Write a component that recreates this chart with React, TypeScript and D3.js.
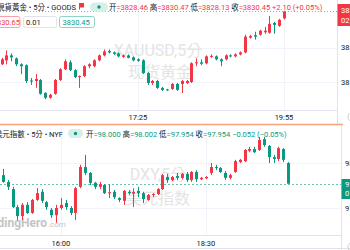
import React from 'react';
import * as d3 from 'd3';

// [open, high, low, close] — 5 minute candles, XAUUSD (last candle at 19:55)
const goldCandles: [number, number, number, number][] = [
  [3815.14, 3817.0, 3814.9, 3816.57], [3816.29, 3819.14, 3815.14, 3817.71], [3817.71, 3818.29, 3816.0, 3817.14],
  [3816.86, 3817.1, 3814.6, 3815.14], [3815.14, 3815.43, 3812.29, 3814.57], [3814.86, 3815.1, 3809.71, 3810.29],
  [3810.43, 3811.14, 3809.14, 3810.14], [3810.29, 3812.29, 3808.29, 3810.86], [3810.57, 3810.86, 3806.3, 3806.57],
  [3806.86, 3807.0, 3805.0, 3805.43], [3805.43, 3806.57, 3805.14, 3806.29], [3806.57, 3810.86, 3806.3, 3810.57],
  [3810.57, 3814.0, 3810.3, 3813.71], [3813.71, 3816.57, 3813.43, 3816.0], [3815.71, 3816.29, 3813.14, 3813.43],
  [3813.43, 3813.71, 3811.14, 3811.43], [3811.43, 3811.9, 3808.29, 3811.71], [3811.71, 3814.86, 3811.43, 3814.57],
  [3814.57, 3815.43, 3814.0, 3815.14], [3814.57, 3816.57, 3814.3, 3816.29], [3816.29, 3818.0, 3816.0, 3817.71],
  [3817.71, 3819.43, 3817.43, 3818.86], [3819.0, 3819.43, 3818.29, 3818.57], [3818.57, 3818.86, 3817.86, 3818.14],
  [3818.29, 3818.57, 3817.14, 3817.43], [3817.29, 3818.0, 3817.0, 3817.71], [3817.71, 3818.0, 3816.86, 3817.0],
  [3817.14, 3817.43, 3816.0, 3816.29], [3816.57, 3816.86, 3815.86, 3816.14], [3816.29, 3816.57, 3812.29, 3812.57],
  [3812.57, 3812.86, 3809.14, 3809.71], [3809.71, 3810.57, 3809.14, 3810.29], [3810.29, 3810.57, 3808.0, 3808.29],
  [3808.29, 3808.57, 3807.43, 3807.71], [3807.86, 3808.0, 3807.43, 3807.6], [3808.0, 3809.71, 3807.71, 3809.43],
  [3809.43, 3809.71, 3807.43, 3807.71], [3809.43, 3810.57, 3806.86, 3810.29], [3809.71, 3810.57, 3809.43, 3810.29],
  [3810.0, 3815.71, 3809.71, 3815.43], [3815.43, 3816.86, 3814.57, 3815.71], [3815.71, 3816.57, 3814.86, 3815.29],
  [3815.43, 3817.71, 3815.14, 3817.43], [3817.29, 3818.0, 3817.0, 3817.57], [3817.43, 3817.71, 3816.29, 3816.57],
  [3816.57, 3816.86, 3814.57, 3816.0], [3816.57, 3818.0, 3816.29, 3817.71], [3817.71, 3818.0, 3817.14, 3817.43],
  [3817.43, 3818.29, 3817.14, 3818.0], [3818.0, 3818.86, 3817.71, 3818.57], [3818.57, 3823.71, 3818.29, 3823.14],
  [3822.86, 3823.71, 3822.57, 3823.29], [3823.57, 3824.57, 3822.29, 3823.14], [3823.71, 3825.14, 3823.43, 3824.86],
  [3824.43, 3826.0, 3824.0, 3824.86], [3824.29, 3829.14, 3824.0, 3826.86], [3827.14, 3827.43, 3824.0, 3826.57],
  [3826.29, 3828.29, 3826.0, 3828.0], [3828.46, 3830.47, 3828.13, 3830.45],
];

// [open, high, low, close] — 5 minute candles, DXY (last candle at 19:55)
const dxyCandles: [number, number, number, number][] = [
  [97.973, 97.987, 97.956, 97.958], [97.958, 97.962, 97.94, 97.947], [97.942, 97.947, 97.9, 97.902],
  [97.902, 97.907, 97.873, 97.882], [97.882, 97.911, 97.873, 97.907], [97.907, 97.913, 97.887, 97.889],
  [97.889, 97.92, 97.887, 97.918], [97.918, 97.944, 97.916, 97.933], [97.936, 97.942, 97.911, 97.916],
  [97.913, 97.916, 97.896, 97.902], [97.896, 97.9, 97.878, 97.884], [97.884, 97.907, 97.867, 97.9],
  [97.9, 97.922, 97.896, 97.907], [97.911, 97.918, 97.896, 97.902], [97.9, 97.904, 97.884, 97.889],
  [97.889, 97.947, 97.873, 97.944], [97.947, 97.996, 97.944, 97.991], [97.991, 98.018, 97.973, 97.978],
  [97.978, 97.98, 97.951, 97.956], [97.956, 97.958, 97.942, 97.947], [97.947, 97.958, 97.942, 97.953],
  [97.951, 97.953, 97.931, 97.933], [97.933, 97.953, 97.922, 97.935], [97.936, 97.94, 97.92, 97.924],
  [97.922, 97.924, 97.913, 97.918], [97.916, 97.94, 97.907, 97.938], [97.936, 97.94, 97.929, 97.933],
  [97.932, 97.944, 97.902, 97.936], [97.938, 97.947, 97.924, 97.933], [97.933, 97.936, 97.911, 97.92],
  [97.918, 97.931, 97.916, 97.929], [97.929, 97.933, 97.924, 97.931], [97.931, 97.944, 97.929, 97.942],
  [97.942, 97.976, 97.94, 97.973], [97.969, 97.976, 97.956, 97.962], [97.962, 97.971, 97.96, 97.969],
  [97.971, 97.978, 97.962, 97.967], [97.967, 97.978, 97.964, 97.976], [97.976, 97.98, 97.958, 97.962],
  [97.962, 97.982, 97.958, 97.98], [97.98, 97.984, 97.958, 97.964], [97.964, 97.969, 97.962, 97.967],
  [97.966, 97.971, 97.964, 97.969], [97.978, 98.0, 97.973, 97.991], [97.991, 97.996, 97.984, 97.989],
  [97.989, 97.991, 97.978, 97.98], [97.978, 97.982, 97.962, 97.967], [97.967, 97.976, 97.964, 97.973],
  [97.98, 98.007, 97.978, 98.004], [98.002, 98.009, 98.0, 98.007], [98.004, 98.031, 98.002, 98.029],
  [98.027, 98.036, 98.024, 98.031], [98.031, 98.036, 98.022, 98.024], [98.029, 98.058, 98.027, 98.051],
  [98.053, 98.058, 98.036, 98.04], [98.038, 98.04, 98.0, 98.013], [98.013, 98.018, 98.0, 98.009],
  [98.009, 98.036, 98.004, 98.033], [98.031, 98.033, 98.002, 98.007], [98.0, 98.002, 97.954, 97.954],
];

const goldLastTime = '19:55';
const dxyLastTime = '19:55';
const goldTimeTicks = ['17:25', '19:55'];
const dxyTimeTicks = ['16:00', '18:30'];
const goldPriceTicks = [3810, 3820];
const dxyPriceTicks = [97.9, 98.0];
const goldLast = 3830.45;
const dxyLast = 97.954;

const RED = '#f23645';
const GREEN = '#089981';
const DARK = '#131722';
const GRID = '#f0f3fa';
const BORDER = '#e0e3eb';
const FONT = "Roboto, 'Noto Sans CJK TC', 'Noto Sans CJK SC', sans-serif";

const parseT = (s: string) => {
  const [h, m] = s.split(':').map(Number);
  return new Date(2025, 0, 1, h, m);
};

function Candles({ data, times, x, y }: any) {
  return (
    <g>
      {data.map(([o, h, l, c]: number[], i: number) => {
        const cx = Math.round(x(times[i]));
        const col = c >= o ? RED : GREEN;
        const yt = y(Math.max(o, c));
        const yb = y(Math.min(o, c));
        return (
          <g key={i}>
            <line x1={cx + 0.5} x2={cx + 0.5} y1={y(h)} y2={y(l)} stroke={col} strokeWidth={1} />
            <rect x={cx - 1} y={yt} width={3} height={Math.max(1, yb - yt)} fill={col} />
          </g>
        );
      })}
    </g>
  );
}

export default function App() {
  const goldEnd = parseT(goldLastTime);
  const goldTimes = goldCandles.map((_, i) => d3.timeMinute.offset(goldEnd, -5 * (goldCandles.length - 1 - i)));
  const xGold = d3.scaleTime().domain([goldTimes[0], goldEnd]).range([1.5, 284]);
  const yGold = d3.scaleLinear().domain([3810, 3820]).range([82, 47.5]);

  const dxyEnd = parseT(dxyLastTime);
  const dxyTimes = dxyCandles.map((_, i) => d3.timeMinute.offset(dxyEnd, -5 * (dxyCandles.length - 1 - i)));
  const xDxy = d3.scaleTime().domain([dxyTimes[0], dxyEnd]).range([3, 288]);
  const yDxy = d3.scaleLinear().domain([97.9, 98.0]).range([208, 163]);

  const fs = 7.5;
  const topSeg: [string, string][] = [
    ['开', DARK], ['=3828.46 ', RED], ['高', DARK], ['=3830.47 ', RED],
    ['低', DARK], ['=3828.13 ', RED], ['收', DARK], ['=3830.45 ', RED],
    ['+2.10 (+0.05%)', RED],
  ];
  const botSeg: [string, string][] = [
    ['开', DARK], ['=98.000 ', GREEN], ['高', DARK], ['=98.002 ', GREEN],
    ['低', DARK], ['=97.954 ', GREEN], ['收', DARK], ['=97.954 ', GREEN],
    ['−0.052 (−0.05%)', GREEN],
  ];

  return (
    <svg width={350} height={250} style={{ position: 'absolute', left: 0, top: 0, background: '#fff' }}
      fontFamily={FONT}>
      <rect width={350} height={250} fill="#fff" />

      {/* ---------- TOP PANEL (XAUUSD) ---------- */}
      {goldPriceTicks.map((p) => (
        <line key={p} x1={0} x2={337} y1={Math.round(yGold(p)) + 0.5} y2={Math.round(yGold(p)) + 0.5} stroke={GRID} />
      ))}
      {goldTimeTicks.map((t) => {
        const xx = Math.round(xGold(parseT(t))) + 0.5;
        return <line key={t} x1={xx} x2={xx} y1={0} y2={110} stroke={GRID} />;
      })}
      <text x={158} y={56} fontSize={16} fill="#e4e4e4" textAnchor="middle">XAUUSD,5分</text>
      <text x={160} y={78} fontSize={16} fill="#e4e4e4" textAnchor="middle" fontFamily="'Noto Sans CJK SC', sans-serif">现货黄金</text>
      <line x1={0} x2={337} y1={Math.round(yGold(goldLast)) + 0.5} y2={Math.round(yGold(goldLast)) + 0.5}
        stroke={RED} strokeOpacity={0.6} strokeDasharray="1,2" />
      <Candles data={goldCandles} times={goldTimes} x={xGold} y={yGold} />

      {/* axes */}
      <line x1={0} x2={337} y1={110.5} y2={110.5} stroke={BORDER} />
      <line x1={337.5} x2={337.5} y1={0} y2={124} stroke={BORDER} />
      {goldTimeTicks.map((t) => (
        <text key={t} x={xGold(parseT(t))} y={119.5} fontSize={fs} fill={DARK} textAnchor="middle">{t}</text>
      ))}
      {goldPriceTicks.map((p) => (
        <text key={p} x={341} y={yGold(p) + 2.8} fontSize={fs} fill={DARK}>{p}</text>
      ))}
      <rect x={337.5} y={4} width={20} height={22} fill={RED} />
      <text x={341} y={13} fontSize={fs} fill="#fff">{goldLast.toFixed(2)}</text>
      <text x={341} y={23} fontSize={fs} fill="#fff">02:13</text>
      <circle cx={353} cy={117} r={5} fill="none" stroke="#cfcfcf" />

      {/* header top */}
      <text x={76} y={10} fontSize={fs} fill={DARK} textAnchor="end">現貨黃金 • 5分 • GOODS</text>
      <path d="M79,3 h5 v4.5 h-4 v2 h-1 z" fill={RED} />
      <rect x={90} y={2.5} width={18} height={9} rx={4.5} fill="#d6efe9" />
      <circle cx={99} cy={7} r={1.7} fill={GREEN} />
      <text x={109} y={10} fontSize={fs} xmlSpace="preserve" style={{ whiteSpace: 'pre' }}>
        {topSeg.map(([t, c], i) => (
          <tspan key={i} fill={c}>{t}</tspan>
        ))}
      </text>
      <rect x={-30} y={16.5} width={50} height={11} rx={2} fill="#fff" stroke="#f5a3ab" />
      <text x={20} y={25} fontSize={fs} fill={RED} textAnchor="end">3830.65</text>
      <rect x={23.5} y={16.5} width={33} height={11} rx={2} fill="#fff" stroke={BORDER} />
      <text x={26} y={25} fontSize={fs} fill={DARK}>0.01</text>
      <rect x={59.5} y={16.5} width={35} height={11} rx={2} fill="#fff" stroke="#8fd3c6" />
      <text x={62.5} y={25} fontSize={fs} fill={GREEN}>3830.45</text>

      {/* separator */}
      <line x1={0} x2={343} y1={124.5} y2={124.5} stroke="#f6a47f" strokeWidth={1.5} />

      {/* ---------- BOTTOM PANEL (DXY) ---------- */}
      {dxyPriceTicks.map((p) => (
        <line key={p} x1={0} x2={341} y1={Math.round(yDxy(p)) + 0.5} y2={Math.round(yDxy(p)) + 0.5} stroke={GRID} />
      ))}
      {dxyTimeTicks.map((t) => {
        const xx = Math.round(xDxy(parseT(t))) + 0.5;
        return <line key={t} x1={xx} x2={xx} y1={126} y2={235} stroke={GRID} />;
      })}
      <text x={158} y={180} fontSize={16} fill="#e4e4e4" textAnchor="middle">DXY,5分</text>
      <text x={158} y={204} fontSize={16} fill="#e4e4e4" textAnchor="middle" fontFamily="'Noto Sans CJK SC', sans-serif">美元指数</text>
      <text x={47} y={227} fontSize={12} fontWeight="bold" fill="#c4c4c4" textAnchor="end">TradingHero</text>
      <text x={48} y={227} fontSize={8} fill="#c4c4c4">.com</text>
      <line x1={0} x2={341} y1={Math.round(yDxy(dxyLast)) + 0.5} y2={Math.round(yDxy(dxyLast)) + 0.5}
        stroke={GREEN} strokeOpacity={0.6} strokeDasharray="2,2" />
      <Candles data={dxyCandles} times={dxyTimes} x={xDxy} y={yDxy} />

      <line x1={0} x2={341} y1={235.5} y2={235.5} stroke={BORDER} />
      <line x1={0} x2={350} y1={248.5} y2={248.5} stroke={BORDER} />
      <line x1={341.5} x2={341.5} y1={125} y2={250} stroke={BORDER} />
      {dxyTimeTicks.map((t) => (
        <text key={t} x={xDxy(parseT(t))} y={245.5} fontSize={fs} fill={DARK} textAnchor="middle">{t}</text>
      ))}
      {dxyPriceTicks.map((p) => (
        <text key={p} x={345} y={yDxy(p) + 2.8} fontSize={fs} fill={DARK}>{p.toFixed(3)}</text>
      ))}
      <rect x={341.5} y={179} width={20} height={20} fill={GREEN} />
      <text x={345} y={187} fontSize={fs} fill="#fff">{dxyLast.toFixed(3)}</text>
      <text x={345} y={196} fontSize={fs} fill="#fff">01:13</text>
      <circle cx={353} cy={247} r={5} fill="none" stroke="#cfcfcf" />

      {/* header bottom */}
      <text x={63} y={136.5} fontSize={fs} fill={DARK} textAnchor="end">美元指數 • 5分 • NYF</text>
      <rect x={68} y={129} width={15} height={9} rx={4.5} fill="#d6efe9" />
      <circle cx={75.5} cy={133.5} r={1.7} fill={GREEN} />
      <text x={86} y={136.5} fontSize={fs} xmlSpace="preserve" style={{ whiteSpace: 'pre' }}>
        {botSeg.map(([t, c], i) => (
          <tspan key={i} fill={c}>{t}</tspan>
        ))}
      </text>
    </svg>
  );
}
